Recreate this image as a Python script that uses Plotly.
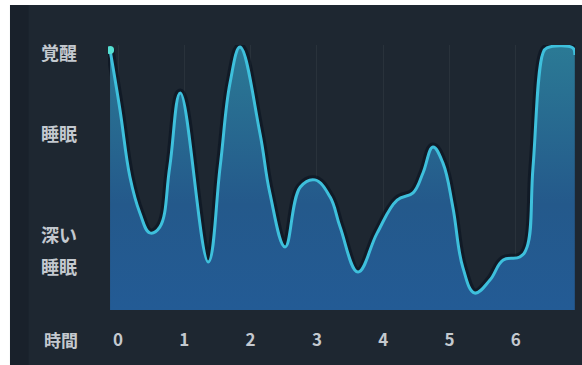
import plotly.graph_objects as go

# Sleep depth over the night (hours since falling asleep, 0 = deep sleep, 100 = awake)
hours = [-0.12, 0.03, 0.18, 0.33, 0.48, 0.63, 0.78, 0.94, 1.36, 1.54, 1.69,
         1.84, 2.14, 2.29, 2.52, 2.75, 2.97, 3.20, 3.35, 3.62, 3.91, 4.21,
         4.45, 4.60, 4.75, 4.90, 5.05, 5.20, 5.38, 5.61, 5.81, 6.06, 6.17, 6.26,
         6.41, 6.47, 6.86, 6.89]
depth = [98.1, 75.5, 50.2, 36.6, 29.1, 31.3, 54.0, 81.9, 18.1, 54.0, 85.7,
         99.2, 66.8, 44.2, 23.8, 46.4, 49.1, 42.6, 31.3, 14.3, 29.1, 41.5,
         44.2, 51.7, 61.5, 55.5, 38.9, 16.2, 6.4, 11.3, 18.9, 20.0, 23.8, 54.0,
         97.0, 98.9, 98.9, 96.2]

x_tick_vals = [0, 1, 2, 3, 4, 5, 6]
x_tick_text = ["0", "1", "2", "3", "4", "5", "6"]
y_tick_vals = [96.6, 66.0, 27.9, 15.8]
y_tick_text = ["覚醒", "睡眠", "深い", "睡眠"]
x_title = "時間"

BG = "#1e2731"
LABEL = "#c4c9cf"
FONT = "Noto Sans CJK JP"

fig = go.Figure()

# dark halo under the curve
fig.add_trace(go.Scatter(
    x=hours, y=depth, mode="lines",
    line=dict(color="rgba(8,16,30,0.55)", width=9, shape="spline", smoothing=1.15),
    hoverinfo="skip", showlegend=False,
))

# filled sleep curve
fig.add_trace(go.Scatter(
    x=hours, y=depth, mode="lines", fill="tozeroy",
    fillgradient=dict(type="vertical",
                      colorscale=[[0, "#235b95"], [0.4, "#24598b"], [1, "#2b7a95"]]),
    line=dict(color="#3ec0dc", width=3, shape="spline", smoothing=1.15),
    showlegend=False,
))

# start-of-night marker
fig.add_trace(go.Scatter(
    x=hours[:1], y=depth[:1], mode="markers",
    marker=dict(color="#55e0d2", size=8),
    showlegend=False,
))

fig.add_annotation(
    text=x_title, xref="paper", yref="paper",
    x=-0.10, y=-0.113, xanchor="center", yanchor="middle",
    showarrow=False, font=dict(family=FONT, size=17, color=LABEL, weight=700),
)

shapes = [
    # slightly darker band at the left edge
    dict(type="rect", xref="paper", yref="paper", x0=-0.2099, x1=-0.17,
         y0=-0.2075, y1=1.1509, fillcolor="#19212b", line_width=0, layer="below"),
    # white border strips
    dict(type="rect", xref="paper", yref="paper", x0=-0.2313, x1=-0.2099,
         y0=-0.2075, y1=1.1698, fillcolor="white", line_width=0, layer="above"),
    dict(type="rect", xref="paper", yref="paper", x0=-0.2313, x1=1.015,
         y0=1.1509, y1=1.1698, fillcolor="white", line_width=0, layer="above"),
]

fig.update_layout(
    width=582, height=365,
    margin=dict(l=108, r=7, t=45, b=55),
    paper_bgcolor=BG, plot_bgcolor=BG,
    shapes=shapes,
    xaxis=dict(range=[-0.151, 6.893], tickvals=x_tick_vals, ticktext=x_tick_text,
               showgrid=True, gridcolor="rgba(255,255,255,0.05)", zeroline=False,
               showline=False, ticks="", ticklabelstandoff=18,
               tickfont=dict(family=FONT, size=17, color=LABEL, weight=700)),
    yaxis=dict(range=[0, 100], tickvals=y_tick_vals, ticktext=y_tick_text,
               showgrid=False, zeroline=False, showline=False, ticks="",
               ticklabelstandoff=30,
               tickfont=dict(family=FONT, size=18, color=LABEL, weight=700)),
)

fig.write_html("out.html")
